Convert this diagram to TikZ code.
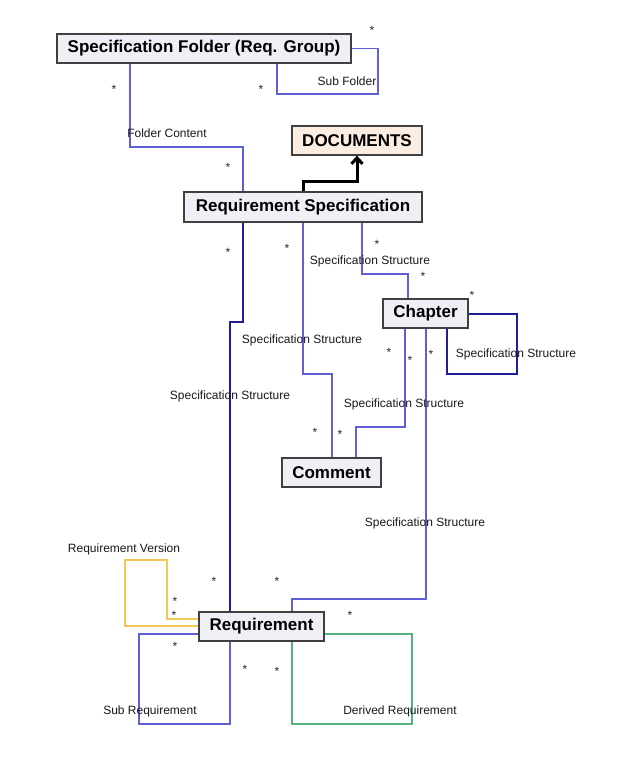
\documentclass[tikz,border=0pt]{standalone}
\usepackage{fontspec}
\setmainfont{Liberation Sans}
\usetikzlibrary{arrows.meta}
\definecolor{boxfill}{RGB}{238,240,245}
\definecolor{docfill}{RGB}{253,236,224}
\definecolor{linkblue}{RGB}{95,95,215}
\definecolor{linknavy}{RGB}{30,30,150}
\definecolor{linkyellow}{RGB}{245,200,85}
\definecolor{linkgreen}{RGB}{85,180,125}
\begin{document}
\begin{tikzpicture}[x=1pt, y=-1pt,
        entity/.style={rectangle, draw=black!75, line width=1.3pt, fill=boxfill, inner sep=0pt, font=\fontsize{17}{18}\selectfont\bfseries},
        link/.style={draw=linkblue, line width=1.3pt},
        navylink/.style={draw=linknavy, line width=1.3pt},
        lbl/.style={font=\fontsize{12}{13}\selectfont, text=black!90, inner sep=0pt},
        star/.style={font=\fontsize{12}{13}\selectfont, text=black!85, inner sep=0pt},
        ]
        \useasboundingbox (0,0) rectangle (634,776);
        \fill[white] (0,0) rectangle (634,776);

        \node (folder) at (204,48.5) [entity, minimum width=294pt, minimum height=29pt] {Specification Folder (Req. Group)};
        \node (docs) at (357,140.5) [entity, fill=docfill, minimum width=130pt, minimum height=29pt] {DOCUMENTS};
        \node (reqspec) at (303,207) [entity, minimum width=238pt, minimum height=30pt] {Requirement Specification};
        \node (chapter) at (425.5,313.5) [entity, minimum width=85pt, minimum height=29pt] {Chapter};
        \node (comment) at (331.5,472.5) [entity, minimum width=99pt, minimum height=29pt] {Comment};
        \node (req) at (261.5,626.5) [entity, minimum width=125pt, minimum height=29pt] {Requirement};

        % folder links
        \draw[link] (folder.east) -| (378,94) -| (folder.south -| 277,0);
        \draw[link] (folder.south -| 130,0) |- (243,147) -- (reqspec.north -| 243,0);
        \draw[black, line width=3pt, -{Straight Barb[length=6pt, width=11pt]}] (reqspec.north -| 303,0) |- (357,181) -- (docs.south);

        % specification structure
        \draw[navylink] (reqspec.south -| 243,0) |- (230,322) -- (req.north -| 230,0);
        \draw[link] (reqspec.south -| 303,0) |- (332,374) -- (comment.north -| 332,0);
        \draw[link] (reqspec.south -| 362,0) |- (408,274) -- (chapter.north -| 408,0);
        \draw[navylink] (chapter.east |- 0,314) -| (517,374) -| (chapter.south -| 447,0);
        \draw[link] (chapter.south -| 405,0) |- (356,427) -- (comment.north -| 356,0);
        \draw[link] (chapter.south -| 426,0) |- (292,599) -- (req.north -| 292,0);

        % requirement links
        \draw[draw=linkyellow, line width=1.3pt] (req.west |- 0,619) -| (167,560) -| (125,626) -- (req.west |- 0,626);
        \draw[link] (req.west |- 0,634) -| (139,724) -| (req.south -| 230,0);
        \draw[draw=linkgreen, line width=1.3pt] (req.east |- 0,634) -| (412,724) -| (req.south -| 292,0);

        \node (subfolder) at (347,81) [lbl] {Sub Folder};
        \node (foldercontent) at (167,133) [lbl] {Folder Content};
        \node (ss1) at (370,261) [lbl] {Specification Structure};
        \node (ss2) at (302,340) [lbl] {Specification Structure};
        \node (ss3) at (230,396) [lbl] {Specification Structure};
        \node (ss4) at (404,404) [lbl] {Specification Structure};
        \node (ss5) at (516,354) [lbl] {Specification Structure};
        \node (ss6) at (425,523) [lbl] {Specification Structure};
        \node (reqversion) at (124,549) [lbl] {Requirement Version};
        \node (subreq) at (150,711) [lbl] {Sub Requirement};
        \node (derivedreq) at (400,711) [lbl] {Derived Requirement};

        \foreach \x/\y [count=\i] in {372/27, 114/86, 261/86, 228/164, 228/249, 287/245, 377/241, 423/273,
                472/292, 389/349, 410/357, 431/351, 315/429, 340/431, 214/578, 277/578,
                175/598, 174/612, 350/612, 175/643, 245/666, 277/668}
            \node (star\i) at (\x,\y+3) [star] {*};
    \end{tikzpicture}
\end{document}
